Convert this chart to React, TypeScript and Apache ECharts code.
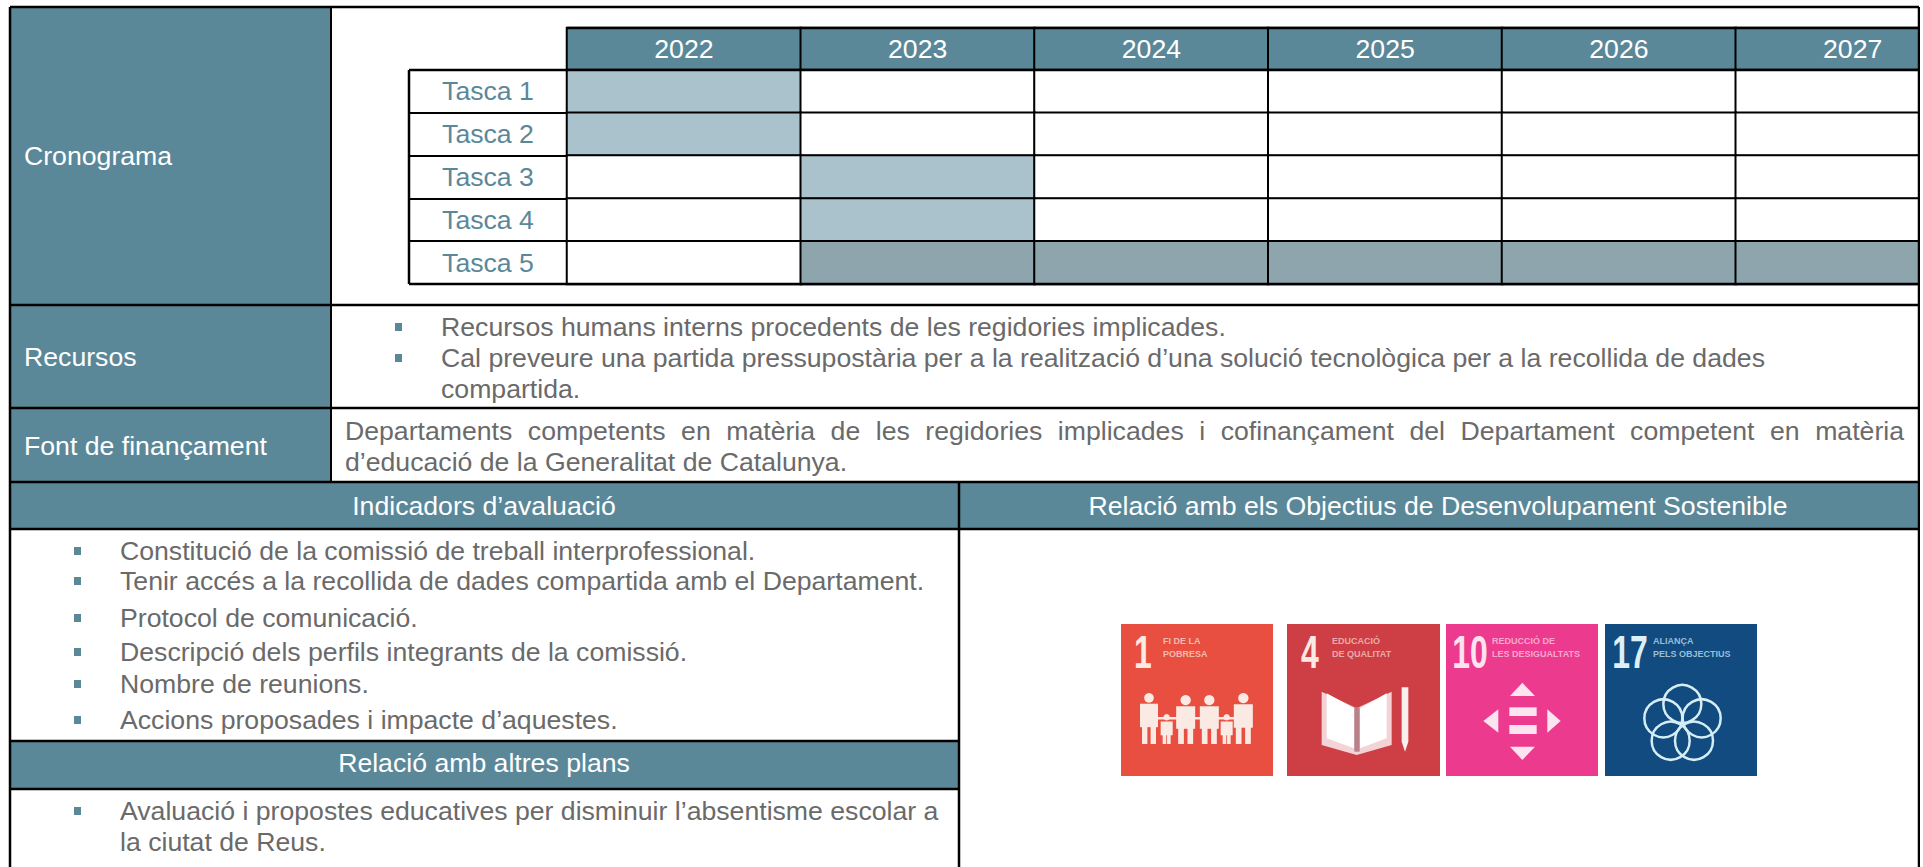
import React, { useEffect, useRef } from "react";
import * as echarts from "echarts";

const years = ["2022", "2023", "2024", "2025", "2026", "2027"];
const tasks = ["Tasca 1", "Tasca 2", "Tasca 3", "Tasca 4", "Tasca 5"];
const tasca1 = [1, 0, 0, 0, 0, 0];
const tasca2 = [1, 0, 0, 0, 0, 0];
const tasca3 = [0, 1, 0, 0, 0, 0];
const tasca4 = [0, 1, 0, 0, 0, 0];
const tasca5 = [0, 2, 2, 2, 2, 2];
const taskRows = [tasca1, tasca2, tasca3, tasca4, tasca5];

const recursos = [
  "Recursos humans interns procedents de les regidories implicades.",
  "Cal preveure una partida pressupostària per a la realització d’una solució tecnològica per a la recollida de dades",
  "compartida.",
];
const financament1 =
  "Departaments competents en matèria de les regidories implicades i cofinançament del Departament competent en matèria";
const financament2 = "d’educació de la Generalitat de Catalunya.";
const indicadors = [
  "Constitució de la comissió de treball interprofessional.",
  "Tenir accés a la recollida de dades compartida amb el Departament.",
  "Protocol de comunicació.",
  "Descripció dels perfils integrants de la comissió.",
  "Nombre de reunions.",
  "Accions proposades i impacte d’aquestes.",
];
const indicadorsY = [551, 581, 618, 652, 684, 720];
const altresPlans = [
  "Avaluació i propostes educatives per disminuir l’absentisme escolar a",
  "la ciutat de Reus.",
];

const TEAL = "#5B8899";
const LIGHT = "#A9C2CC";
const GRAY = "#8EA5AD";
const TXT = "#6A6A6A";
const FONT = '"Liberation Sans", Arial, sans-serif';
const FS = 26.65;

const rect = (x: number, y: number, w: number, h: number, fill: string, z = 1) => ({
  type: "rect", z, shape: { x, y, width: w, height: h }, style: { fill },
});
const line = (x1: number, y1: number, x2: number, y2: number, lw = 2.5, color = "#000") => ({
  type: "line", z: 20, shape: { x1, y1, x2, y2 }, style: { stroke: color, lineWidth: lw },
});
const txt = (text: string, x: number, y: number, fill = TXT, size = FS, align = "left", extra: any = {}) => ({
  type: "text", z: 10,
  style: { text, x, y, fill, fontSize: size, fontFamily: FONT, textAlign: align, textVerticalAlign: "middle", ...extra },
});
const bullet = (x: number, y: number) => rect(x, y - 4, 7, 8, TEAL, 5);

function justified(text: string, x0: number, x1: number, y: number) {
  const ctx = document.createElement("canvas").getContext("2d")!;
  ctx.font = `${FS}px ${FONT}`;
  const words = text.split(" ");
  const widths = words.map((w) => ctx.measureText(w).width);
  const total = widths.reduce((a, b) => a + b, 0);
  const gap = (x1 - x0 - total) / (words.length - 1);
  let x = x0;
  return words.map((w, i) => {
    const el = txt(w, x, y);
    x += widths[i] + gap;
    return el;
  });
}

function poly(points: number[][], fill: string) {
  return { type: "polygon", z: 6, shape: { points }, style: { fill } };
}
const Z5 = (zx: number, zy: number) => [1100 + zx / 3, 610 + zy / 3];
const Z6 = (zx: number, zy: number) => [1430 + zx / 3, 610 + zy / 3];

const PEOPLE = "#FBE9E4";
function person(cx: number, top: number, h: number, w: number) {
  const r = w * 0.27;
  const els: any[] = [];
  els.push({ type: "circle", z: 6, shape: { cx, cy: top + r, r }, style: { fill: PEOPLE } });
  els.push(rect(cx - w / 2, top + 2 * r + 1, w, h * 0.46, PEOPLE, 6));
  els.push(rect(cx - w / 2 + 2, top + 2 * r + h * 0.45, w * 0.3, h * 0.55 - 2 * r, PEOPLE, 6));
  els.push(rect(cx + w / 2 - 2 - w * 0.3, top + 2 * r + h * 0.45, w * 0.3, h * 0.55 - 2 * r, PEOPLE, 6));
  return els;
}

function iconText(x: number, y: number, l1: string, l2: string, fill: string) {
  return [
    { ...txt(l1, x, y, fill, 9, "left", { fontWeight: "bold", opacity: 0.8 }), z: 6 },
    { ...txt(l2, x, y + 13, fill, 9, "left", { fontWeight: "bold", opacity: 0.8 }), z: 6 },
  ];
}
const bigNumber = (t: string, cx: number, fill: string) => ({
  ...txt(t, 0, 0, fill, 47, "center", { fontWeight: "bold" }),
  z: 6, x: cx, y: 652, scaleX: 0.68,
});

function icons(): any[] {
  const els: any[] = [];
  els.push(rect(1121, 624, 152, 152, "#E84F40", 5));
  els.push(rect(1287, 624, 153, 152, "#CE3F45", 5));
  els.push(rect(1446, 624, 152, 152, "#EC3A8E", 5));
  els.push(rect(1605, 624, 152, 152, "#124B80", 5));

  els.push(bigNumber("1", 1143, "#FBE9E4"));
  els.push(...iconText(1163, 641, "FI DE LA", "POBRESA", "#F6D5CC"));
  els.push(...person(Z5(147, 0)[0], 693, 51, 18));
  els.push(...person(Z5(200, 0)[0], 714, 30, 12));
  els.push(...person(Z5(257, 0)[0], 695, 49, 19));
  els.push(...person(Z5(328, 0)[0], 695, 49, 19));
  els.push(...person(Z5(380, 0)[0], 714, 30, 12));
  els.push(...person(Z5(430, 0)[0], 693, 51, 19));
  els.push(rect(Z5(165, 0)[0], 717, 86, 2.5, PEOPLE, 6));

  els.push(bigNumber("4", 1310, "#FBE9E4"));
  els.push(...iconText(1332, 641, "EDUCACIÓ", "DE QUALITAT", "#F0C8C6"));
  els.push(poly([Z5(665, 245), Z5(770, 295), Z5(875, 245), Z5(875, 405), Z5(770, 435), Z5(665, 405)], "#F3D3D5"));
  els.push(poly([Z5(680, 250), Z5(762, 295), Z5(762, 415), Z5(680, 385)], "#FFFFFF"));
  els.push(poly([Z5(780, 295), Z5(860, 250), Z5(860, 385), Z5(780, 415)], "#FFFFFF"));
  els.push(poly([Z5(763, 292), Z5(779, 292), Z5(779, 425), Z5(763, 425)], "#B9828A"));
  els.push(poly([Z5(905, 232), Z5(925, 232), Z5(925, 395), Z5(915, 425), Z5(905, 395)], "#FBEFEE"));

  els.push(bigNumber("10", 1470, "#FCE3F0"));
  els.push(...iconText(1492, 641, "REDUCCIÓ DE", "LES DESIGUALTATS", "#F9C6DF"));
  const ph = "#FCE3F0";
  els.push(poly([Z6(277, 218), Z6(240, 258), Z6(315, 258)], ph));
  els.push(poly([Z6(160, 333), Z6(205, 298), Z6(205, 368)], ph));
  els.push(poly([Z6(392, 333), Z6(352, 298), Z6(352, 368)], ph));
  els.push(poly([Z6(277, 450), Z6(240, 410), Z6(315, 410)], ph));
  els.push(poly([Z6(238, 292), Z6(320, 292), Z6(320, 318), Z6(238, 318)], ph));
  els.push(poly([Z6(238, 345), Z6(320, 345), Z6(320, 372), Z6(238, 372)], ph));

  els.push(bigNumber("17", 1630, "#DCF0F7"));
  els.push(...iconText(1653, 641, "ALIANÇA", "PELS OBJECTIUS", "#BFDDEB"));
  [[757, 282], [700, 325], [815, 325], [722, 392], [792, 392]].forEach(([a, b]) => {
    const [cx, cy] = Z6(a, b);
    els.push({ type: "circle", z: 6, shape: { cx, cy, r: 19 }, style: { fill: "none", stroke: "#D5EEF5", lineWidth: 2.5 } });
  });
  return els;
}

function layout(): any[] {
  const L = 10, R = 1919, M = 959, C = 331;
  const els: any[] = [];
  els.push(rect(L, 7, C - L, 298, TEAL));
  els.push(rect(L, 305, C - L, 103, TEAL));
  els.push(rect(L, 408, C - L, 74, TEAL));
  els.push(rect(L, 482, M - L, 47, TEAL));
  els.push(rect(M, 482, R - M, 47, TEAL));
  els.push(rect(L, 741, M - L, 48, TEAL));
  els.push(rect(1920, 0, 3, 867, "#FFFFFF", 30));

  els.push(txt("Cronograma", 24, 156, "#FFFFFF"));
  els.push(txt("Recursos", 24, 357, "#FFFFFF"));
  els.push(txt("Font de finançament", 24, 446, "#FFFFFF"));
  els.push(txt("Indicadors d’avaluació", 484, 506, "#FFFFFF", FS, "center"));
  els.push(txt("Relació amb els Objectius de Desenvolupament Sostenible", 1438, 506, "#FFFFFF", FS, "center"));
  els.push(txt("Relació amb altres plans", 484, 763, "#FFFFFF", FS, "center"));

  els.push(txt(recursos[0], 441, 327));
  els.push(txt(recursos[1], 441, 358));
  els.push(txt(recursos[2], 441, 389));
  els.push(bullet(395, 327), bullet(395, 358));
  els.push(...justified(financament1, 345, 1904, 431));
  els.push(txt(financament2, 345, 462));

  indicadors.forEach((t, i) => {
    els.push(txt(t, 120, indicadorsY[i]));
    els.push(bullet(74, indicadorsY[i]));
  });
  els.push(txt(altresPlans[0], 120, 811));
  els.push(txt(altresPlans[1], 120, 842));
  els.push(bullet(74, 811));

  els.push(line(L, 7, R, 7), line(L, 7, L, 867), line(R, 7, R, 529));
  els.push(line(C, 7, C, 482, 2));
  els.push(line(L, 305, R, 305), line(L, 408, R, 408), line(L, 482, R, 482), line(L, 529, R, 529));
  els.push(line(L, 741, M, 741), line(L, 789, M, 789), line(M, 482, M, 867));
  els.push(line(R, 529, R, 867));
  // outline of the task-name column and of the timeline
  els.push(line(409, 70, 409, 284), line(409, 70, 1919, 70), line(409, 284, 1919, 284), line(567, 28, 1919, 28));
  els.push(...icons());
  return els;
}

export default function App() {
  const ref = useRef<HTMLDivElement>(null);
  useEffect(() => {
    const chart = echarts.init(ref.current!, null, { renderer: "svg" });
    const cells: any[] = [];
    taskRows.forEach((row, y) =>
      row.forEach((v, x) =>
        cells.push({ value: [x, y, v], itemStyle: { borderColor: "#000", borderWidth: 2 } })
      )
    );
    const headCells = years.map((_, x) => ({
      value: [x, 0, 3],
      itemStyle: { borderColor: "#000", borderWidth: 2 },
    }));
    chart.setOption({
      animation: false,
      backgroundColor: "#FFFFFF",
      tooltip: { show: false },
      grid: [
        { left: 567, top: 28, width: 1402.5, height: 42, containLabel: false, outerBoundsMode: "none" },
        { left: 567, top: 70, width: 1402.5, height: 214, containLabel: false, outerBoundsMode: "none" },
      ],
      visualMap: {
        show: false,
        type: "piecewise",
        dimension: 2,
        seriesIndex: [0, 1],
        pieces: [
          { value: 0, color: "#FFFFFF" },
          { value: 1, color: LIGHT },
          { value: 2, color: GRAY },
          { value: 3, color: TEAL },
        ],
      },
      xAxis: [
        {
          type: "category", gridIndex: 0, data: years, position: "top", z: 8,
          axisLine: { show: false }, axisTick: { show: false }, splitLine: { show: false },
          axisLabel: { inside: true, interval: 0, margin: 21, verticalAlign: "middle", color: "#FFFFFF", fontSize: 26.65, fontFamily: FONT },
        },
        { type: "category", gridIndex: 1, data: years, show: false },
      ],
      yAxis: [
        { type: "category", gridIndex: 0, data: ["any"], show: false },
        {
          type: "category", gridIndex: 1, data: tasks, inverse: true, z: 8,
          axisLine: { show: false }, splitLine: { show: false },
          axisTick: { show: true, length: 158, lineStyle: { color: "#000", width: 2 } },
          axisLabel: { interval: 0, align: "center", margin: 79, padding: [2, 0, 0, 0], color: TEAL, fontSize: 26.65, fontFamily: FONT },
        },
      ],
      series: [
        { type: "heatmap", xAxisIndex: 0, yAxisIndex: 0, data: headCells, z: 2 },
        { type: "heatmap", xAxisIndex: 1, yAxisIndex: 1, data: cells, z: 2 },
      ],
      graphic: { elements: layout() },
    });
    return () => chart.dispose();
  }, []);
  return <div ref={ref} style={{ position: "absolute", left: 0, top: 0, width: 1923, height: 867 }} />;
}
